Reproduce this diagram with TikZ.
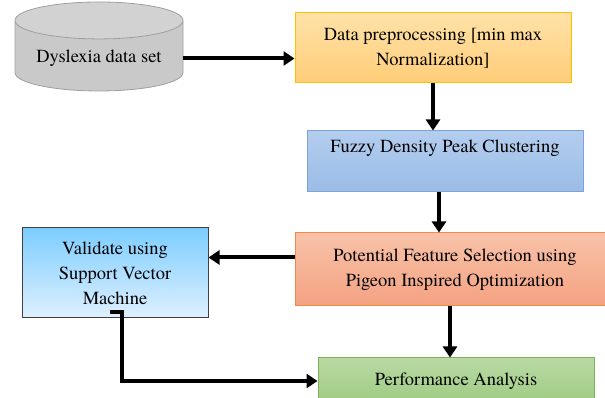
\documentclass[tikz,border=0pt]{standalone}
\usepackage{fontspec}
\setmainfont{TeX Gyre Termes}
\usetikzlibrary{shapes.geometric, arrows.meta, positioning}

\definecolor{prepline}{HTML}{FFC000}
\definecolor{preptop}{HTML}{FFE2A8}
\definecolor{prepbot}{HTML}{FFCD78}
\definecolor{fuzzline}{HTML}{7AA3DA}
\definecolor{fuzztop}{HTML}{B3CDEE}
\definecolor{fuzzbot}{HTML}{9BBCE6}
\definecolor{potline}{HTML}{F08A4B}
\definecolor{pottop}{HTML}{F8C2A8}
\definecolor{potbot}{HTML}{F4A282}
\definecolor{svmtop}{HTML}{7CCDFF}
\definecolor{svmbot}{HTML}{DFF0FF}
\definecolor{perfline}{HTML}{7DB356}
\definecolor{perftop}{HTML}{B8D9A3}
\definecolor{perfbot}{HTML}{9FCB82}

\begin{document}
\begin{tikzpicture}[
    x=1pt, y=1pt,
    box/.style={rectangle, draw, line width=1pt, align=center,
                font=\fontsize{18.5}{25}\selectfont, inner sep=4pt},
    dbase/.style={cylinder, shape border rotate=90, shape aspect=0.28,
                draw=gray!75, line width=0.8pt, cylinder uses custom fill,
                cylinder body fill=gray!42, cylinder end fill=gray!35,
                minimum width=168pt, minimum height=89pt,
                font=\fontsize{18.5}{25}\selectfont},
    arr/.style={-{Triangle[width=14pt, length=11pt]}, line width=4pt},
]
    \useasboundingbox (0,0) rectangle (605,398);

    \node[dbase] (data) at (99,339.5) {Dyslexia data set};
    \node[box, draw=prepline, top color=preptop, bottom color=prepbot,
          minimum width=276pt, minimum height=70pt] (prep) at (433,350)
          {Data preprocessing [min max\\Normalization]};
    \node[box, draw=fuzzline, top color=fuzztop, bottom color=fuzzbot,
          minimum width=276pt, minimum height=61pt, text height=15pt, text depth=32pt]
          (fuzzy) at (445,236.5) {Fuzzy Density Peak Clustering};
    \node[box, draw=potline, top color=pottop, bottom color=potbot,
          minimum width=320pt, minimum height=73pt] (pot) at (455,128.5)
          {Potential Feature Selection using\\Pigeon Inspired Optimization};
    \node[box, draw=black!75, top color=svmtop, bottom color=svmbot,
          minimum width=186pt, minimum height=90pt] (valid) at (115,125)
          {Validate using\\Support Vector\\Machine};
    \node[box, draw=perfline, top color=perftop, bottom color=perfbot,
          minimum width=276pt, minimum height=46pt] (perf) at (456,17)
          {Performance Analysis};

    \draw[arr] (data.east) -- (data.east -| prep.west);
    \draw[arr] (prep.south) -- (prep.south |- fuzzy.north);
    \draw[arr] ([xshift=-6pt]fuzzy.south) -- ([xshift=-6pt]fuzzy.south |- pot.north);
    \draw[arr] ([yshift=12pt]pot.west) -- ([yshift=12pt]pot.west -| valid.east);
    \draw[arr] ([xshift=-5pt]pot.south) -- ([xshift=-5pt]pot.south |- perf.north);
    \draw[arr] ([xshift=-5pt,yshift=6pt]valid.south) -- ++(12,0) |- (perf.west);
\end{tikzpicture}
\end{document}
